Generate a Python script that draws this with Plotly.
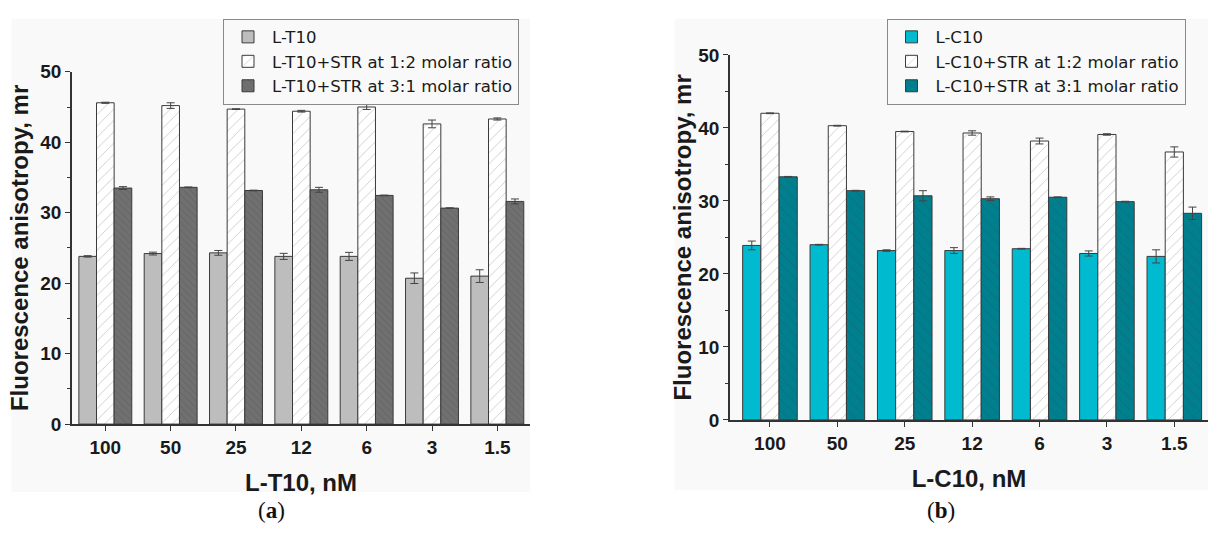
import plotly.graph_objects as go

conc = ["100", "50", "25", "12", "6", "3", "1.5"]

t10 = [23.8, 24.2, 24.3, 23.8, 23.8, 20.7, 21.0]
t10_err = [0.1, 0.2, 0.34, 0.43, 0.57, 0.75, 0.9]
t10_12 = [45.6, 45.2, 44.7, 44.4, 45.0, 42.6, 43.3]
t10_12_err = [0.08, 0.4, 0.05, 0.12, 0.35, 0.55, 0.15]
t10_31 = [33.5, 33.6, 33.15, 33.25, 32.45, 30.65, 31.6]
t10_31_err = [0.2, 0.05, 0.05, 0.35, 0.05, 0.05, 0.35]

c10 = [23.9, 24.0, 23.2, 23.2, 23.45, 22.8, 22.4]
c10_err = [0.6, 0.05, 0.1, 0.4, 0.05, 0.35, 0.9]
c10_12 = [42.0, 40.3, 39.5, 39.3, 38.2, 39.1, 36.7]
c10_12_err = [0.05, 0.05, 0.05, 0.3, 0.4, 0.1, 0.7]
c10_31 = [33.3, 31.4, 30.7, 30.3, 30.5, 29.9, 28.3]
c10_31_err = [0.05, 0.05, 0.7, 0.25, 0.05, 0.05, 0.85]

names_left = ["L-T10", "L-T10+STR at 1:2 molar ratio", "L-T10+STR at 3:1 molar ratio"]
names_right = ["L-C10", "L-C10+STR at 1:2 molar ratio", "L-C10+STR at 3:1 molar ratio"]

FONT = "Liberation Sans, Arial, sans-serif"
LEG_FONT = "DejaVu Sans, Liberation Sans, sans-serif"
PANEL_BG = "#f9f9f9"
OUTLINE = "#3a3a3a"


def err(vals):
    return dict(type="data", array=vals, visible=True, color="#444444", thickness=1, width=4)


fig = go.Figure()

# ---- left panel ----
fig.add_trace(go.Bar(x=conc, y=t10, name=names_left[0], error_y=err(t10_err),
                     marker=dict(color="#bdbdbd", line=dict(color=OUTLINE, width=1)),
                     xaxis="x", yaxis="y", legend="legend"))
fig.add_trace(go.Bar(x=conc, y=t10_12, name=names_left[1], error_y=err(t10_12_err),
                     marker=dict(color="white", line=dict(color=OUTLINE, width=1),
                                 pattern=dict(shape="/", size=8, solidity=0.1,
                                              fgcolor="#8a8a8a", bgcolor="white")),
                     xaxis="x", yaxis="y", legend="legend"))
fig.add_trace(go.Bar(x=conc, y=t10_31, name=names_left[2], error_y=err(t10_31_err),
                     marker=dict(color="#6e6e6e", line=dict(color=OUTLINE, width=1),
                                 pattern=dict(shape="\\", size=5, solidity=0.15,
                                              fgcolor="#4e4e4e", bgcolor="#707070")),
                     xaxis="x", yaxis="y", legend="legend"))

# ---- right panel ----
fig.add_trace(go.Bar(x=conc, y=c10, name=names_right[0], error_y=err(c10_err),
                     marker=dict(color="#00bad0", line=dict(color=OUTLINE, width=1)),
                     xaxis="x2", yaxis="y2", legend="legend2"))
fig.add_trace(go.Bar(x=conc, y=c10_12, name=names_right[1], error_y=err(c10_12_err),
                     marker=dict(color="white", line=dict(color=OUTLINE, width=1),
                                 pattern=dict(shape="/", size=8, solidity=0.1,
                                              fgcolor="#8a8a8a", bgcolor="white")),
                     xaxis="x2", yaxis="y2", legend="legend2"))
fig.add_trace(go.Bar(x=conc, y=c10_31, name=names_right[2], error_y=err(c10_31_err),
                     marker=dict(color="#00808f", line=dict(color=OUTLINE, width=1),
                                 pattern=dict(shape="\\", size=8, solidity=0.1,
                                              fgcolor="#2a4f55", bgcolor="#00808f")),
                     xaxis="x2", yaxis="y2", legend="legend2"))

W, H = 1208, 535


def px_x(p):
    return p / W


def px_y(p):
    return 1 - p / H


xaxis_common = dict(type="category", showline=True, linecolor="#333333", linewidth=1.5,
                    ticks="outside", ticklen=5, tickwidth=1.2, tickcolor="#333333",
                    showgrid=False, zeroline=False,
                    tickfont=dict(family=FONT, size=19, color="#1a1a1a", weight="bold"),
                    title_font=dict(family=FONT, size=24, color="#1a1a1a", weight="bold"),
                    title_standoff=18)
yaxis_common = dict(range=[0, 50], dtick=10, showline=True, linecolor="#333333", linewidth=1.5,
                    ticks="outside", ticklen=5, tickwidth=1.2, tickcolor="#333333",
                    minor=dict(dtick=5, ticks="outside", ticklen=3, tickcolor="#333333", tickwidth=1),
                    showgrid=False, zeroline=False,
                    tickfont=dict(family=FONT, size=19, color="#1a1a1a", weight="bold"),
                    title_font=dict(family=FONT, size=24, color="#1a1a1a", weight="bold"))

legend_common = dict(xanchor="left", yanchor="top",
                     bgcolor=PANEL_BG, bordercolor="#8a8a8a", borderwidth=1,
                     font=dict(family=LEG_FONT, size=16.5, color="#1a1a1a"),
                     itemwidth=38, tracegroupgap=0, traceorder="normal")

fig.update_layout(
    width=W, height=H,
    margin=dict(l=0, r=0, t=0, b=0, pad=0),
    paper_bgcolor="white",
    plot_bgcolor="rgba(0,0,0,0)",
    barmode="group", bargap=0.19, bargroupgap=0,
    font=dict(family=FONT, color="#1a1a1a"),
    xaxis=dict(xaxis_common, domain=[px_x(72), px_x(530)], range=[-0.51, 6.5],
               anchor="y", title_text="L-T10, nM"),
    yaxis=dict(yaxis_common, domain=[px_y(431), px_y(64.3)], anchor="x",
               title_text="Fluorescence anisotropy, mr", title_standoff=5),
    xaxis2=dict(xaxis_common, domain=[px_x(730), 1.0], range=[-0.593, 6.5],
                anchor="y2", title_text="L-C10, nM"),
    yaxis2=dict(yaxis_common, domain=[px_y(426.7), px_y(46.7)], anchor="x2",
                title_text="Fluorescence anisotropy, mr", title_standoff=0),
    legend=dict(legend_common, x=px_x(223), y=px_y(9)),
    legend2=dict(legend_common, x=px_x(886.5), y=px_y(9)),
    shapes=[
        dict(type="rect", xref="paper", yref="paper", layer="below",
             x0=px_x(11.5), x1=px_x(530), y0=px_y(501.7), y1=px_y(9),
             fillcolor=PANEL_BG, line=dict(width=0)),
        dict(type="rect", xref="paper", yref="paper", layer="below",
             x0=px_x(674.7), x1=1.0, y0=px_y(499.5), y1=px_y(9),
             fillcolor=PANEL_BG, line=dict(width=0)),
    ],
    annotations=[
        dict(text="(<b>a</b>)", xref="paper", yref="paper", x=px_x(271), y=px_y(521),
             xanchor="center", yanchor="middle", showarrow=False,
             font=dict(family="Liberation Serif, DejaVu Serif, serif", size=23, color="#111111")),
        dict(text="(<b>b</b>)", xref="paper", yref="paper", x=px_x(941), y=px_y(521),
             xanchor="center", yanchor="middle", showarrow=False,
             font=dict(family="Liberation Serif, DejaVu Serif, serif", size=23, color="#111111")),
    ],
)

fig.write_html("out.html")
